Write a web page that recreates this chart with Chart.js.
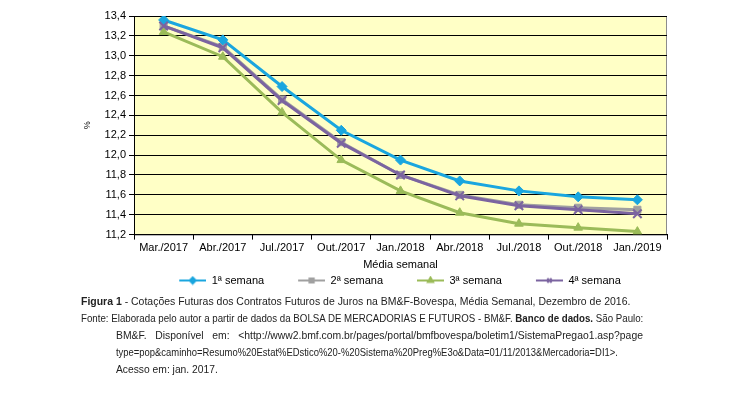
<!DOCTYPE html>
<html>
<head>
<meta charset="utf-8">
<script src="https://cdn.jsdelivr.net/npm/chart.js@4/dist/chart.umd.min.js"></script>
<style>
  body { margin: 0; background: #fff; width: 736px; height: 396px; position: relative; overflow: hidden; }
  #wrap { position: absolute; left: 0; top: 0; width: 736px; height: 296px; }
  #caption { position: absolute; left: 0; top: 293px; width: 736px; font-family: "Liberation Sans", Arial, sans-serif; font-size: 11.5px; line-height: 17px; color: #222; }
  .ln { position: absolute; white-space: nowrap; transform-origin: 0 50%; }
</style>
</head>
<body>
<div id="wrap"><canvas id="chart"></canvas></div>
<div id="caption">
  <span class="ln" style="left:81px;top:0" data-w="549"><b>Figura 1</b> - Cotações Futuras dos Contratos Futuros de Juros na BM&amp;F-Bovespa, Média Semanal, Dezembro de 2016.</span>
  <span class="ln" style="left:81px;top:17px" data-w="562">Fonte: Elaborada pelo autor a partir de dados da BOLSA DE MERCADORIAS E FUTUROS - BM&amp;F. <b>Banco de dados.</b> São Paulo:</span>
  <span class="ln" style="left:116px;top:34px" data-w="527">BM&amp;F.&nbsp;&nbsp; Disponível&nbsp;&nbsp; em:&nbsp;&nbsp; &lt;http://www2.bmf.com.br/pages/portal/bmfbovespa/boletim1/SistemaPregao1.asp?page</span>
  <span class="ln" style="left:116px;top:51px" data-w="502">type=pop&amp;caminho=Resumo%20Estat%EDstico%20-%20Sistema%20Preg%E3o&amp;Data=01/11/2013&amp;Mercadoria=DI1&gt;.</span>
  <span class="ln" style="left:116px;top:68px" data-w="102">Acesso em: jan. 2017.</span>
</div>
<script>
const categories = ['Mar./2017', 'Abr./2017', 'Jul./2017', 'Out./2017', 'Jan./2018', 'Abr./2018', 'Jul./2018', 'Out./2018', 'Jan./2019'];
const semana1 = [13.36, 13.16, 12.69, 12.25, 11.95, 11.74, 11.64, 11.58, 11.55];
const semana2 = [13.30, 13.09, 12.56, 12.13, 11.80, 11.60, 11.50, 11.47, 11.45];
const semana3 = [13.24, 12.99, 12.43, 11.95, 11.64, 11.42, 11.31, 11.27, 11.23];
const semana4 = [13.30, 13.08, 12.55, 12.12, 11.80, 11.59, 11.49, 11.45, 11.41];
const seriesNames = ['1ª semana', '2ª semana', '3ª semana', '4ª semana'];

const FONT = '"Liberation Sans", Arial, sans-serif';

// fit caption lines to the widths of the original page
document.querySelectorAll('.ln').forEach(el => {
  const k = +el.dataset.w / el.offsetWidth;
  el.style.transform = 'scaleX(' + k + ')';
});

// legend symbol: line with the marker in the middle, blank space on the left
const ICON_W = 58;
function legendIcon(color, style) {
  const c = document.createElement('canvas');
  c.width = ICON_W; c.height = 10;
  const ctx = c.getContext('2d');
  const x0 = ICON_W - 27;
  ctx.strokeStyle = color; ctx.fillStyle = color; ctx.lineWidth = 2;
  ctx.beginPath(); ctx.moveTo(x0, 5); ctx.lineTo(ICON_W, 5); ctx.stroke();
  Chart.helpers.drawPoint(ctx, { pointStyle: style, radius: 3, borderWidth: 1 }, x0 + 13.5, 5);
  if (style !== 'crossRot') ctx.fill();
  return c;
}

const plotBg = {
  id: 'plotBg',
  afterLayout(chart) {
    // legend sits a bit left of the plot centre in the original
    chart.legend.left -= 16;
    chart.legend.right -= 16;
  },
  beforeDraw(chart) {
    const { ctx, chartArea: a } = chart;
    ctx.save();
    ctx.fillStyle = '#FFFFC6';
    ctx.fillRect(a.left, a.top, a.right - a.left, a.bottom - a.top);
    ctx.strokeStyle = '#8C8C8C';
    ctx.lineWidth = 1;
    ctx.strokeRect(a.left + 0.5, a.top + 0.5, a.right - a.left - 1, a.bottom - a.top);
    ctx.restore();
  }
};

function ds(label, data, color, style, order) {
  return {
    label, data, order,
    borderColor: color,
    backgroundColor: color,
    borderWidth: 3,
    pointStyle: style,
    pointRadius: style === 'crossRot' ? 6 : 5,
    pointBorderWidth: style === 'crossRot' ? 2 : 1,
    tension: 0,
    icon: legendIcon(color, style)
  };
}

new Chart(document.getElementById('chart'), {
  type: 'line',
  data: {
    labels: categories,
    datasets: [
      ds(seriesNames[0], semana1, '#1AA6DF', 'rectRot', 1),
      ds(seriesNames[1], semana2, '#A0A0A0', 'rect', 3),
      ds(seriesNames[2], semana3, '#9BBB59', 'triangle', 2),
      ds(seriesNames[3], semana4, '#7B64A0', 'crossRot', 0)
    ]
  },
  options: {
    responsive: true,
    maintainAspectRatio: false,
    animation: false,
    layout: { padding: { left: 82, right: 69, top: 16, bottom: 0 } },
    plugins: {
      tooltip: { enabled: false },
      legend: {
        position: 'bottom',
        fullSize: false,
        labels: {
          usePointStyle: true,
          pointStyleWidth: ICON_W,
          padding: 3,
          color: '#000',
          font: { family: FONT, size: 11 },
          generateLabels(chart) {
            return chart.data.datasets.map((d, i) => ({
              text: d.label,
              pointStyle: d.icon,
              fillStyle: d.borderColor,
              strokeStyle: d.borderColor,
              lineWidth: 0,
              fontColor: '#000',
              hidden: false,
              datasetIndex: i
            }));
          }
        }
      }
    },
    scales: {
      x: {
        offset: true,
        grid: { offset: true, drawOnChartArea: false, color: '#000', tickLength: 5 },
        border: { color: '#000' },
        ticks: { color: '#000', padding: 2, maxRotation: 0, font: { family: FONT, size: 11 } },
        title: { display: true, text: 'Média semanal', color: '#000', padding: { top: 2, bottom: 0 }, font: { family: FONT, size: 11 } }
      },
      y: {
        min: 11.2,
        max: 13.4,
        afterFit(s) { s.width = 52; },
        grid: { color: '#000', tickLength: 5 },
        border: { color: '#000' },
        ticks: {
          stepSize: 0.2,
          color: '#000',
          padding: 3,
          font: { family: FONT, size: 11 },
          callback: v => v.toFixed(1).replace('.', ',')
        },
        title: { display: true, text: '%', color: '#000', padding: 0, font: { family: FONT, size: 9 } }
      }
    }
  },
  plugins: [plotBg]
});
</script>
</body>
</html>
